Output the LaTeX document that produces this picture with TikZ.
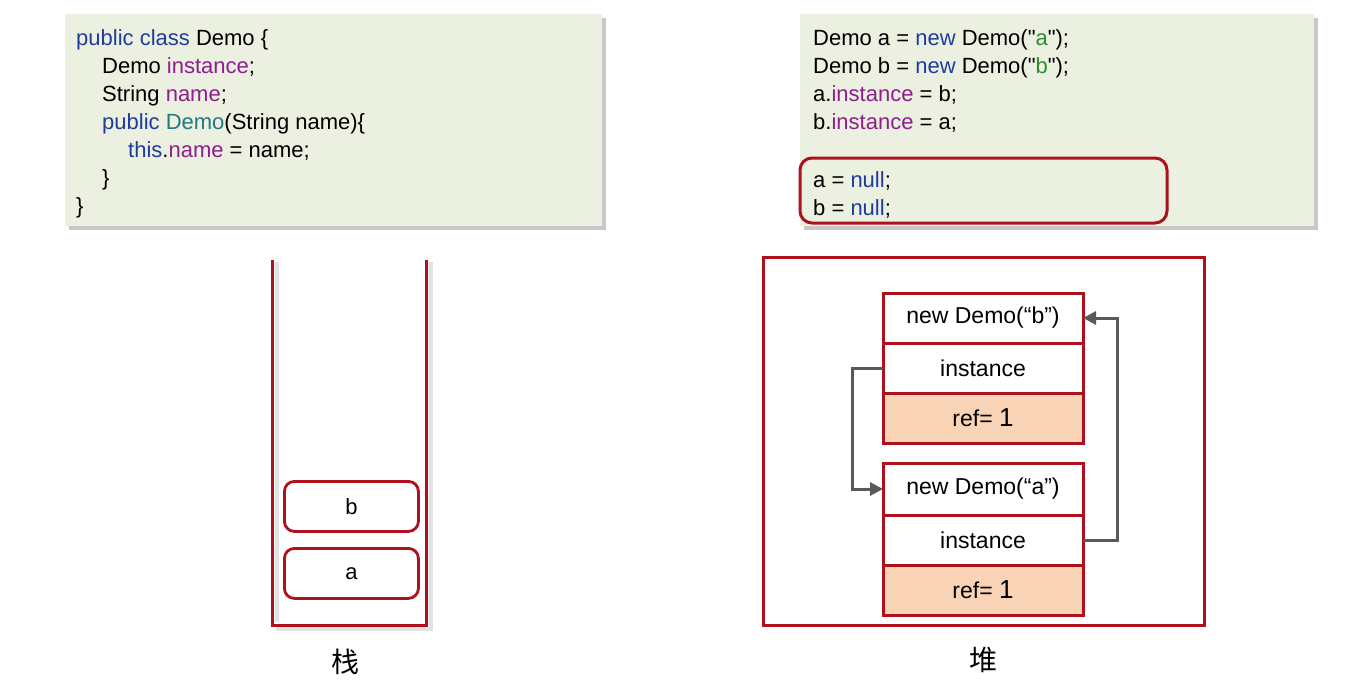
\documentclass[tikz,border=0pt]{standalone}
\usepackage{fontspec}
\setmainfont{Liberation Sans}
\newfontfamily\cjk{Noto Sans CJK SC}
\usetikzlibrary{arrows.meta}
\definecolor{redc}{HTML}{AE111C}
\definecolor{codebg}{HTML}{EBF0E0}
\definecolor{peach}{HTML}{F9D3B5}
\definecolor{kwblue}{HTML}{1F3C9C}
\definecolor{kwpurple}{HTML}{8E1E8E}
\definecolor{kwteal}{HTML}{227A80}
\definecolor{kwgreen}{HTML}{2E8B30}
\definecolor{arrgray}{HTML}{595959}
\definecolor{shadowc}{HTML}{C8C8C8}
\definecolor{shadowl}{HTML}{E2E2E2}
\newcommand{\kwb}[1]{\textcolor{kwblue}{#1}}
\newcommand{\kwp}[1]{\textcolor{kwpurple}{#1}}
\newcommand{\kwt}[1]{\textcolor{kwteal}{#1}}
\newcommand{\kwg}[1]{\textcolor{kwgreen}{#1}}
\newcommand{\dq}{\textquotedbl}
\newcommand{\bigone}{{\fontsize{26}{28}\selectfont 1}}
\begin{document}
\begin{tikzpicture}[x=1pt,y=-1pt,
  codeline/.style={anchor=base west,inner sep=0pt,font=\fontsize{22}{28}\selectfont},
  cell/.style={draw=redc,line width=3pt,minimum width=200pt,minimum height=50pt,inner sep=0pt,outer sep=0pt,font=\fontsize{23}{26}\selectfont,anchor=north west},
  refcell/.style={cell,fill=peach},
  slot/.style={draw=redc,line width=2.8pt,rounded corners=10pt,minimum width=134pt,minimum height=50pt,inner sep=0pt,font=\fontsize{22}{26}\selectfont,anchor=north west},
  link/.style={draw=arrgray,line width=3pt,-{Triangle[length=13pt,width=13pt]}},
  wall/.style={draw=redc,line width=3pt},
  label/.style={font=\cjk\fontsize{28}{32}\selectfont,inner sep=0pt}]
\useasboundingbox (0,0) rectangle (1355,680);
\fill[white] (0,0) rectangle (1355,680);
% left code box
\fill[shadowc] (69,18) rectangle (606,230);
\fill[codebg] (65,14) rectangle (602,226);
\node[codeline] (l1) at (76,45) {\kwb{public class} Demo \{};
\node[codeline] (l2) at (102,73) {Demo \kwp{instance};};
\node[codeline] (l3) at (102,101) {String \kwp{name};};
\node[codeline] (l4) at (102,129) {\kwb{public} \kwt{Demo}(String name)\{};
\node[codeline] (l5) at (128,157) {\kwb{this}.\kwp{name} = name;};
\node[codeline] (l6) at (102,185) {\}};
\node[codeline] (l7) at (76,213) {\}};
% right code box
\fill[shadowc] (804,18) rectangle (1318,230);
\fill[codebg] (800,14) rectangle (1314,226);
\node[codeline] (r1) at (813,45) {Demo a = \kwb{new} Demo(\dq\kwg{a}\dq);};
\node[codeline] (r2) at (813,73) {Demo b = \kwb{new} Demo(\dq\kwg{b}\dq);};
\node[codeline] (r3) at (813,101) {a.\kwp{instance} = b;};
\node[codeline] (r4) at (813,129) {b.\kwp{instance} = a;};
\node[codeline] (r5) at (813,187) {a = \kwb{null};};
\node[codeline] (r6) at (813,215) {b = \kwb{null};};
\draw[wall,rounded corners=12pt] (800,158) rectangle (1167,223);
% stack
\coordinate (stl) at (272,260);
\coordinate (stbl) at (272,625);
\coordinate (stbr) at (426,625);
\coordinate (str) at (426,260);
\draw[shadowl,line width=4pt] (277,262) -- (277,622);
\draw[shadowl,line width=4pt] (431,262) -- (431,629) -- (276,629);
\draw[wall] (stl) -- (stbl) -- (stbr) -- (str);
\node[slot] (sb) at (283,480) {b};
\node[slot] (sa) at (283,547) {a};
\node[label] (stack) at (345,662) {栈};
% heap
\draw[wall] (763,257) rectangle (1204,625);
\node[cell] (bh) at (883,293) {new Demo(“b”)};
\node[cell] (bi) at (bh.south west) {instance};
\node[refcell] (br) at (bi.south west) {ref= \bigone};
\node[cell,minimum height=52pt] (ah) at (883,463) {new Demo(“a”)};
\node[cell] (ai) at (ah.south west) {instance};
\node[refcell] (ar) at (ai.south west) {ref= \bigone};
\node[label] (heap) at (983,660) {堆};
\draw[link] (bi.west) -- ++(-31,0) |- (ah.west);
\draw[link] (ai.east) -- ++(34,0) |- (bh.east);
\end{tikzpicture}
\end{document}
